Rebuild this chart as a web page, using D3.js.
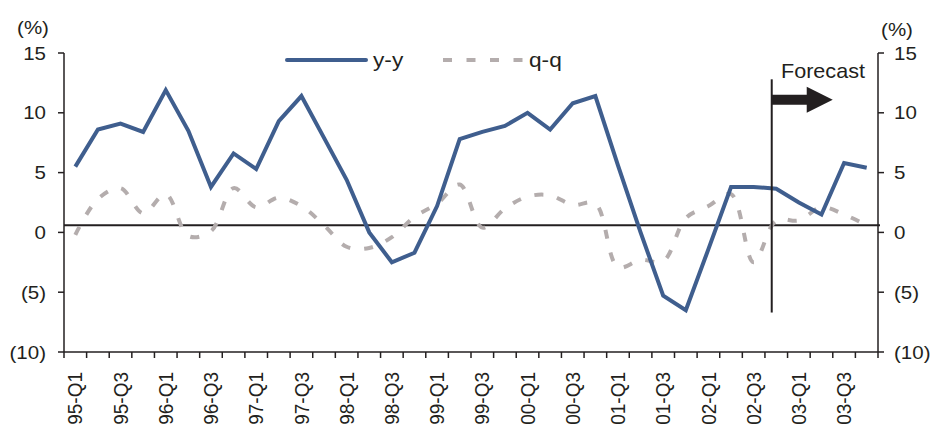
<!DOCTYPE html>
<html>
<head>
<meta charset="utf-8">
<script src="https://cdn.jsdelivr.net/npm/d3@7"></script>
<style>
  body { margin: 0; background: #fff; }
  svg { display: block; }
  text { font-family: "Liberation Sans", Arial, sans-serif; fill: #231f20; }
</style>
</head>
<body>
<svg id="chart" width="932" height="428"></svg>
<script>
// Quarterly growth rates, %
const quarters = [
  "95-Q1","95-Q2","95-Q3","95-Q4","96-Q1","96-Q2","96-Q3","96-Q4",
  "97-Q1","97-Q2","97-Q3","97-Q4","98-Q1","98-Q2","98-Q3","98-Q4",
  "99-Q1","99-Q2","99-Q3","99-Q4","00-Q1","00-Q2","00-Q3","00-Q4",
  "01-Q1","01-Q2","01-Q3","01-Q4","02-Q1","02-Q2","02-Q3","02-Q4",
  "03-Q1","03-Q2","03-Q3","03-Q4"
];
const yoy = [
  5.5, 8.6, 9.1, 8.4, 11.9, 8.5, 3.8, 6.6,
  5.3, 9.3, 11.4, 7.9, 4.4, 0.0, -2.5, -1.7,
  2.2, 7.8, 8.4, 8.9, 10.0, 8.6, 10.8, 11.4,
  5.6, 0.0, -5.3, -6.5, -1.4, 3.8, 3.8, 3.65,
  2.5, 1.5, 5.8, 5.4
];
const qoq = [
  -0.2, 2.8, 3.7, 1.6, 3.2, -0.3, 0.1, 3.7,
  2.1, 2.9, 2.2, 0.6, -1.2, -1.3, -0.4, 1.3,
  2.4, 4.0, 0.4, 2.0, 3.0, 3.1, 2.3, 2.4,
  -2.9, -2.3, -2.4, 1.2, 2.2, 3.2, -2.5, 1.0,
  1.0, 2.1, 1.5, 0.6
];
const yTicks = [-10, -5, 0, 5, 10, 15];
const seriesNames = ["y-y", "q-q"];
const baselineValue = 0.6;
const forecastFrom = "02-Q4";
const forecastLabel = "Forecast";
const unitLabel = "(%)";

const INK = "#231f20";
const BLUE = "#3f5e8e";
const GREY = "#b4adad";
const SX = 1.08;          // horizontal stretch of the lettering
const FONT = 19;

const svg = d3.select("#chart");
const plotL = 64, plotR = 878, plotT = 53, plotB = 352;

const x = d3.scaleBand().domain(quarters).range([plotL, plotR]).padding(0);
const y = d3.scaleLinear().domain([-10, 15]).range([plotB, plotT]);
const cx = q => x(q) + x.bandwidth() / 2;
const fmt = v => v < 0 ? `(${Math.abs(v)})` : `${v}`;

function label(g, tx, ty, str, anchor, size, rot) {
  return g.append("text")
    .attr("transform", `translate(${tx},${ty}) scale(${SX},1)` + (rot ? ` rotate(${rot})` : ""))
    .attr("text-anchor", anchor)
    .attr("dy", "0.35em")
    .style("font-size", size + "px")
    .text(str);
}

// left and right value axes
const axes = svg.append("g");
[[plotL, -1, "end", 46], [plotR, 1, "start", 894]].forEach(([ax, dir, anchor, lx]) => {
  axes.append("line").attr("x1", ax).attr("x2", ax).attr("y1", plotT).attr("y2", plotB)
    .attr("stroke", INK).attr("stroke-width", 1.5);
  yTicks.forEach(t => {
    axes.append("line").attr("x1", ax).attr("x2", ax + dir * 6)
      .attr("y1", y(t)).attr("y2", y(t)).attr("stroke", INK).attr("stroke-width", 1.5);
    label(axes, lx, y(t), fmt(t), anchor, FONT);
  });
});
label(axes, 33, 27, unitLabel, "middle", FONT);
label(axes, 897, 29, unitLabel, "middle", FONT);

// category axis
axes.append("line").attr("x1", plotL).attr("x2", plotR).attr("y1", plotB).attr("y2", plotB)
  .attr("stroke", INK).attr("stroke-width", 1.5);
quarters.concat([null]).forEach(q => {
  const tx = q ? x(q) : plotR;
  axes.append("line").attr("x1", tx).attr("x2", tx).attr("y1", plotB).attr("y2", plotB + 6)
    .attr("stroke", INK).attr("stroke-width", 1.5);
});
quarters.forEach((q, i) => {
  if (i % 2 === 0) label(axes, cx(q), 372, q, "end", FONT, -90);
});

// reference level line
svg.append("line").attr("x1", plotL).attr("x2", plotR + 2)
  .attr("y1", y(baselineValue)).attr("y2", y(baselineValue))
  .attr("stroke", INK).attr("stroke-width", 2);

// series
const lineQ = d3.line().x((d, i) => cx(quarters[i])).y(d => y(d)).curve(d3.curveCatmullRom.alpha(0.5));
const lineY = d3.line().x((d, i) => cx(quarters[i])).y(d => y(d));
svg.append("path").attr("d", lineQ(qoq)).attr("fill", "none")
  .attr("stroke", GREY).attr("stroke-width", 4).attr("stroke-dasharray", "9,14");
svg.append("path").attr("d", lineY(yoy)).attr("fill", "none")
  .attr("stroke", BLUE).attr("stroke-width", 4).attr("stroke-linejoin", "miter");

// forecast marker
const fx = x(forecastFrom) + x.bandwidth() * 0.3;
svg.append("line").attr("x1", fx).attr("x2", fx).attr("y1", y(12.8)).attr("y2", y(-6.7))
  .attr("stroke", INK).attr("stroke-width", 2);
const ay = y(11.1);
svg.append("path")
  .attr("d", `M${fx},${ay - 5}H${fx + 35}V${ay - 13}L${fx + 61},${ay}L${fx + 35},${ay + 13}V${ay + 5}H${fx}Z`)
  .attr("fill", INK);
label(svg, 781, 71, forecastLabel, "start", 20);

// legend
const lg = svg.append("g");
lg.append("line").attr("x1", 287).attr("x2", 366).attr("y1", 60).attr("y2", 60)
  .attr("stroke", BLUE).attr("stroke-width", 4).attr("stroke-linecap", "round");
label(lg, 373, 60, seriesNames[0], "start", 21);
lg.append("line").attr("x1", 443).attr("x2", 524).attr("y1", 60).attr("y2", 60)
  .attr("stroke", GREY).attr("stroke-width", 4).attr("stroke-dasharray", "9,14.5");
label(lg, 529, 60, seriesNames[1], "start", 21);
</script>
</body>
</html>
